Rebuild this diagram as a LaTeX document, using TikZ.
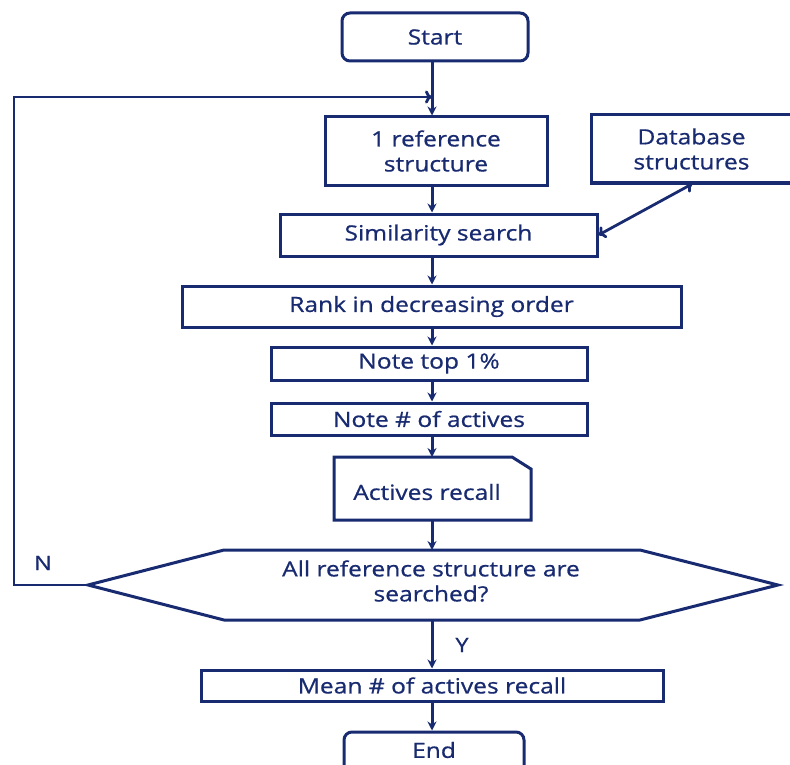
\documentclass[tikz,border=0pt]{standalone}
\usepackage{fontspec}
\setmainfont{Open Sans}[FakeStretch=1.17,FakeBold=0.7]
\usetikzlibrary{arrows.meta}
\definecolor{navy}{RGB}{24,42,112}
\begin{document}
\begin{tikzpicture}[x=1pt,y=-1pt,
  box/.style={draw=navy, line width=3pt, fill=white, text=navy,
    font=\fontsize{21}{25}\selectfont, inner sep=0pt, align=center},
  lbl/.style={text=navy, font=\fontsize{20}{24}\selectfont, inner sep=0pt},
  shp/.style={draw=navy, line width=3pt, fill=white, line join=miter},
  arr/.style={draw=navy, line width=3pt, -{Stealth[length=9pt,width=9pt]}},
  oarr/.style={draw=navy, line width=2.8pt, -{To[length=7pt,width=13pt]}},
  darr/.style={draw=navy, line width=2.8pt, {To[length=7pt,width=13pt]}-{To[length=7pt,width=13pt]}}]
\useasboundingbox (0,0) rectangle (790,765);
\coordinate (tx) at (432,0);
% nodes
\node[box, rounded corners=8pt, minimum width=186pt, minimum height=48pt] (start) at (435,37) {Start};
\node[box, minimum width=222pt, minimum height=68pt] (ref1) at (436,151) {1 reference\\structure};
\node[box, minimum width=201pt, minimum height=68pt] (db) at (691.5,149) {Database\\structures};
\node[box, minimum width=317pt, minimum height=42pt] (sim) at (438.5,235) {Similarity search};
\node[box, minimum width=499pt, minimum height=41pt] (rank) at (431.5,306.5) {Rank in decreasing order};
\node[box, minimum width=316pt, minimum height=33pt] (top1) at (429,363.5) {Note top 1\%};
\node[box, minimum width=316pt, minimum height=32pt] (nact) at (429,419) {Note \# of actives};
% actives recall (cut corner)
\coordinate (recN) at (432,457);
\coordinate (recS) at (432,520);
\draw[shp] (334,457) -- (512,457) -- (531,469) -- (531,520) -- (334,520) -- cycle;
\node[box, draw=none, fill=none] (rec) at (427,492) {Actives recall};
% decision hexagon
\coordinate (hexL) at (88,585);
\coordinate (hexN) at (432,550);
\coordinate (hexS) at (432,620);
\draw[shp] (hexL) -- (224,550) -- (640,550) -- (778,585) -- (640,620) -- (224,620) -- cycle;
\node[box, draw=none, fill=none] (hex) at (431,581) {All reference structure are\\searched?};
\node[box, minimum width=462pt, minimum height=31pt] (mean) at (432,685.5) {Mean \# of actives recall};
\node[box, rounded corners=8pt, minimum width=180pt, minimum height=48pt] (end) at (434,756) {};
\node[box, draw=none, fill=none] (endt) at (434,750) {End};
% connectors
\draw[arr] (start.south -| tx) -- (ref1.north -| tx);
\draw[arr] (ref1.south -| tx) -- (sim.north -| tx);
\draw[arr] (sim.south -| tx) -- (rank.north -| tx);
\draw[arr] (rank.south -| tx) -- (top1.north -| tx);
\draw[arr] (top1.south -| tx) -- (nact.north -| tx);
\draw[arr] (nact.south -| tx) -- (recN);
\draw[arr] (recS) -- (hexN);
\draw[arr] (hexS) -- (mean.north -| tx);
\draw[arr] (mean.south -| tx) -- (end.north -| tx);
\coordinate (loopL) at (14,585);
\coordinate (loopT) at (14,97);
\draw[oarr] (hexL) -- (loopL) -- (loopT) -- (loopT -| tx);
\coordinate (dbA) at (692,184);
\draw[darr] (sim.east) -- (dbA);
\node[lbl] (N) at (43,563) {N};
\node[lbl] (Y) at (462,645) {Y};
\end{tikzpicture}
\end{document}
